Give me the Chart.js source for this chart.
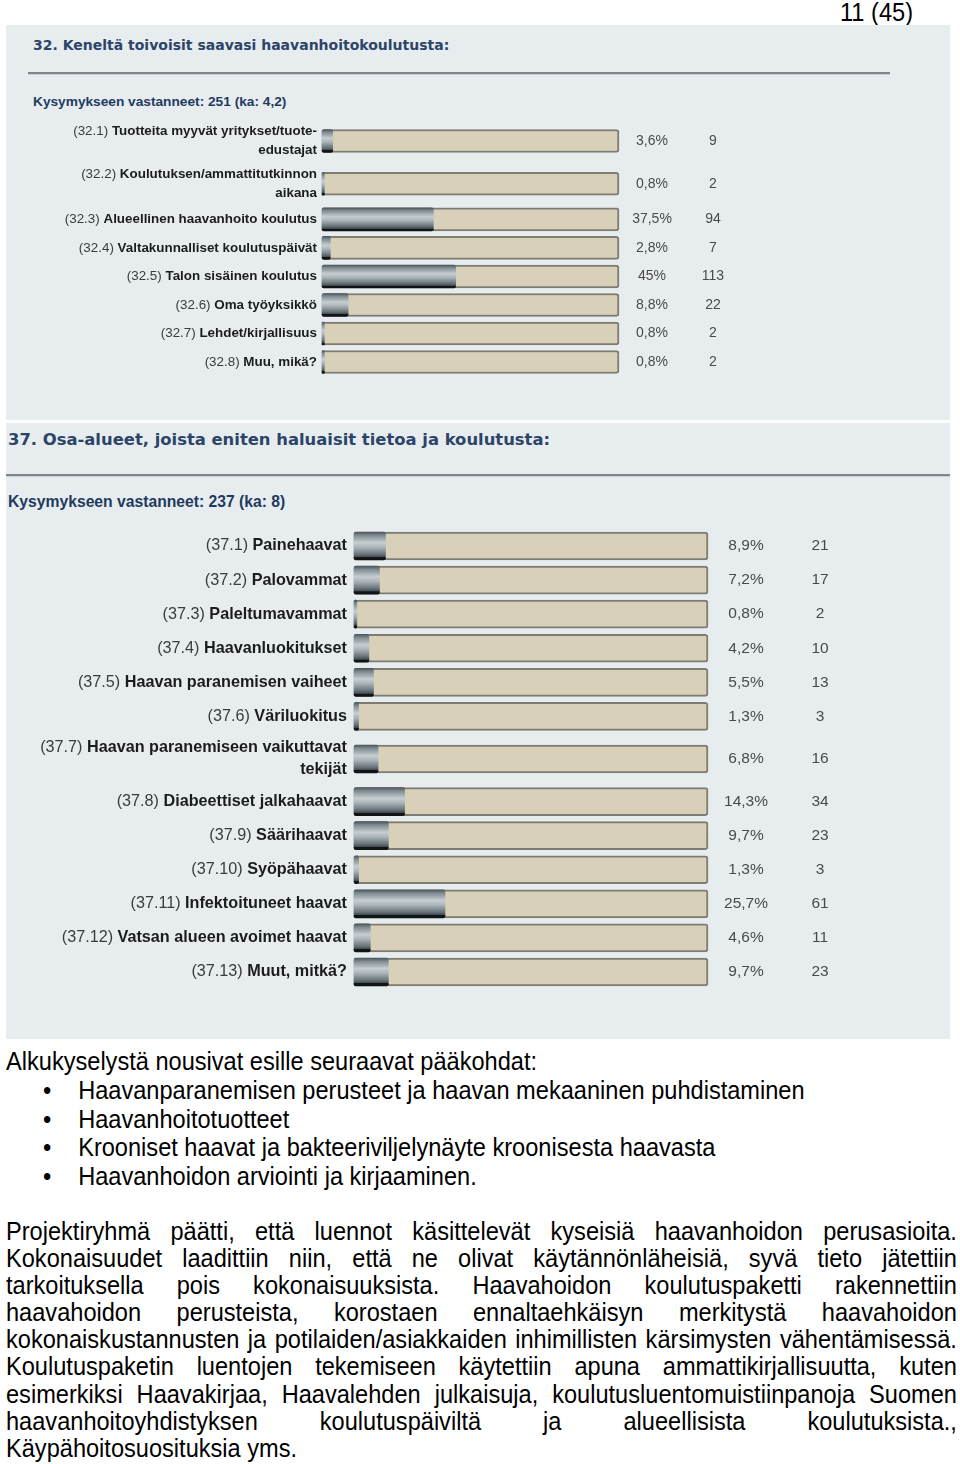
<!DOCTYPE html>
<html>
<head>
<meta charset="utf-8">
<script src="https://cdn.jsdelivr.net/npm/chart.js@4.4.1/dist/chart.umd.min.js"></script>
<style>
  body { margin: 0; background: #fff; width: 960px; height: 1464px; position: relative; overflow: hidden; font-family: "Liberation Sans", Arial, sans-serif; }
  .panel { position: absolute; left: 6px; width: 944px; background: #e7edef; }
  .title { position: absolute; font-family: "DejaVu Sans", Verdana, sans-serif; font-weight: bold; color: #2c4468; white-space: nowrap; }
  .sub { position: absolute; font-family: "Liberation Sans", Arial, sans-serif; font-weight: bold; color: #1f3a5e; white-space: nowrap; }
  .rule { position: absolute; height: 2px; background: #7f878b; border-bottom: 1px solid #c9d0d3; }
  canvas { position: absolute; }
  .txt { position: absolute; left: 6px; width: 1028px; transform: scaleX(0.925); transform-origin: 0 0; font-size: 25.5px; color: #000; }
  .txt div { white-space: nowrap; }
  .just div { text-align: justify; text-align-last: justify; white-space: normal; }
  .just div.last { text-align-last: left; }
  .li { position: relative; padding-left: 78px; }
  .li span { position: absolute; left: 40px; }
</style>
</head>
<body>
<div class="txt" style="top:-2px; left:840px; width:200px;">11 (45)</div>

<div class="panel" style="top:25px; height:395px;"></div>
<div class="title" style="left:33px; top:35px; font-size:14px; line-height:20px;">32. Keneltä toivoisit saavasi haavanhoitokoulutusta:</div>
<div class="rule" style="left:28px; top:72px; width:862px;"></div>
<div class="sub" style="left:33px; top:93px; font-size:13.7px; line-height:18px;">Kysymykseen vastanneet: 251 (ka: 4,2)</div>
<canvas id="chart32" width="944" height="276" style="left:6px; top:112px; width:944px; height:276px;"></canvas>

<div class="panel" style="top:423px; height:616px;"></div>
<div class="title" style="left:8px; top:429px; font-size:16.4px; line-height:22px;">37. Osa-alueet, joista eniten haluaisit tietoa ja koulutusta:</div>
<div class="rule" style="left:6px; top:474px; width:944px;"></div>
<div class="sub" style="left:8px; top:492px; font-size:15.7px; line-height:20px;">Kysymykseen vastanneet: 237 (ka: 8)</div>
<canvas id="chart37" width="944" height="490" style="left:6px; top:515px; width:944px; height:490px;"></canvas>

<div class="txt" style="top:1047px; line-height:28.75px;">
  <div>Alkukyselystä nousivat esille seuraavat pääkohdat:</div>
  <div class="li"><span>•</span>Haavanparanemisen perusteet ja haavan mekaaninen puhdistaminen</div>
  <div class="li"><span>•</span>Haavanhoitotuotteet</div>
  <div class="li"><span>•</span>Krooniset haavat ja bakteeriviljelynäyte kroonisesta haavasta</div>
  <div class="li"><span>•</span>Haavanhoidon arviointi ja kirjaaminen.</div>
</div>

<div class="txt just" style="top:1218px; line-height:27.1px;">
  <div>Projektiryhmä päätti, että luennot käsittelevät kyseisiä haavanhoidon perusasioita.</div>
  <div>Kokonaisuudet laadittiin niin, että ne olivat käytännönläheisiä, syvä tieto jätettiin</div>
  <div>tarkoituksella pois kokonaisuuksista. Haavahoidon koulutuspaketti rakennettiin</div>
  <div>haavahoidon perusteista, korostaen ennaltaehkäisyn merkitystä haavahoidon</div>
  <div>kokonaiskustannusten ja potilaiden/asiakkaiden inhimillisten kärsimysten vähentämisessä.</div>
  <div>Koulutuspaketin luentojen tekemiseen käytettiin apuna ammattikirjallisuutta, kuten</div>
  <div>esimerkiksi Haavakirjaa, Haavalehden julkaisuja, koulutusluentomuistiinpanoja Suomen</div>
  <div>haavanhoitoyhdistyksen koulutuspäiviltä ja alueellisista koulutuksista.,</div>
  <div class="last">Käypähoitosuosituksia yms.</div>
</div>

<script>
// kysymys 32
const labels32 = [
  ['(32.1) Tuotteita myyvät yritykset/tuote-', 'edustajat'],
  ['(32.2) Koulutuksen/ammattitutkinnon', 'aikana'],
  ['(32.3) Alueellinen haavanhoito koulutus'],
  ['(32.4) Valtakunnalliset koulutuspäivät'],
  ['(32.5) Talon sisäinen koulutus'],
  ['(32.6) Oma työyksikkö'],
  ['(32.7) Lehdet/kirjallisuus'],
  ['(32.8) Muu, mikä?']
];
const pct32 = [3.6, 0.8, 37.5, 2.8, 45, 8.8, 0.8, 0.8];
const count32 = [9, 2, 94, 7, 113, 22, 2, 2];

// kysymys 37
const labels37 = [
  ['(37.1) Painehaavat'],
  ['(37.2) Palovammat'],
  ['(37.3) Paleltumavammat'],
  ['(37.4) Haavanluokitukset'],
  ['(37.5) Haavan paranemisen vaiheet'],
  ['(37.6) Väriluokitus'],
  ['(37.7) Haavan paranemiseen vaikuttavat', 'tekijät'],
  ['(37.8) Diabeettiset jalkahaavat'],
  ['(37.9) Säärihaavat'],
  ['(37.10) Syöpähaavat'],
  ['(37.11) Infektoituneet haavat'],
  ['(37.12) Vatsan alueen avoimet haavat'],
  ['(37.13) Muut, mitkä?']
];
const pct37 = [8.9, 7.2, 0.8, 4.2, 5.5, 1.3, 6.8, 14.3, 9.7, 1.3, 25.7, 4.6, 9.7];
const count37 = [21, 17, 2, 10, 13, 3, 16, 34, 23, 3, 61, 11, 23];

function fmtPct(v) {
  return String(v).replace('.', ',') + '%';
}

// row text: labels on the left, % and count on the right
function rowText(labels, pct, counts, pos, st) {
  return {
    id: 'rowText',
    afterDatasetsDraw(chart) {
      const { ctx, chartArea, scales } = chart;
      ctx.save();
      ctx.textBaseline = 'middle';
      labels.forEach((lines, i) => {
        const yc = scales.y.getPixelForValue(pos[i]);
        const x = chartArea.left - st.labelGap;
        lines.forEach((line, j) => {
          const ly = yc + (j - (lines.length - 1) / 2) * st.lineGap;
          const m = line.match(/^(\(\d+\.\d+\))\s(.*)$/);
          const bold = m ? m[2] : line;
          ctx.textAlign = 'right';
          ctx.font = 'bold ' + st.labelSize + 'px "Liberation Sans", Arial, sans-serif';
          ctx.fillStyle = '#1c1c1c';
          ctx.fillText(bold, x, ly);
          if (m) {
            const w = ctx.measureText(bold).width;
            ctx.font = st.labelSize + 'px "Liberation Sans", Arial, sans-serif';
            ctx.fillStyle = '#3c3c3c';
            ctx.fillText(m[1] + ' ', x - w, ly);
          }
        });
        ctx.font = st.numSize + 'px "Liberation Sans", Arial, sans-serif';
        ctx.textAlign = 'center';
        ctx.fillStyle = '#4a4a4a';
        ctx.fillText(fmtPct(pct[i]), chartArea.right + st.pctX, yc);
        ctx.fillText(String(counts[i]), chartArea.right + st.cntX, yc);
      });
      ctx.restore();
    }
  };
}

function makeChart(id, labels, pct, counts, st) {
  // two-line labels take 1.5 rows
  const weights = labels.map(l => l.length > 1 ? 1.5 : 1);
  let acc = 0;
  const pos = weights.map(w => { const p = acc + w / 2; acc += w; return p; });

  const metal = c => {
    const ch = c.chart;
    const sy = ch.scales.y;
    if (!sy || !c.raw) return '#8d989d';
    const yc = sy.getPixelForValue(c.raw.y);
    if (!isFinite(yc)) return '#8d989d';
    const h = st.bar / 2;
    const g = ch.ctx.createLinearGradient(0, yc - h, 0, yc + h);
    g.addColorStop(0, '#4b565c');
    g.addColorStop(0.12, '#7f8b90');
    g.addColorStop(0.38, '#c6ced1');
    g.addColorStop(0.55, '#a9b3b7');
    g.addColorStop(0.8, '#667277');
    g.addColorStop(0.9, '#3e484d');
    g.addColorStop(0.91, '#111416');
    g.addColorStop(1, '#111416');
    return g;
  };

  new Chart(document.getElementById(id), {
    type: 'bar',
    data: {
      datasets: [
        {
          data: pct.map((v, i) => ({ x: v, y: pos[i] })),
          backgroundColor: metal,
          borderWidth: 0,
          borderRadius: 2,
          borderSkipped: false,
          grouped: false,
          barThickness: st.bar,
          clip: false
        },
        {
          data: pos.map(p => ({ x: 100, y: p })),
          backgroundColor: '#d8d0b9',
          borderColor: '#7e7c72',
          borderWidth: 2,
          borderRadius: 3,
          borderSkipped: false,
          grouped: false,
          barThickness: st.bar,
          clip: false
        }
      ]
    },
    options: {
      indexAxis: 'y',
      responsive: false,
      animation: false,
      layout: { padding: st.pad },
      scales: {
        x: { type: 'linear', min: 0, max: 100, offset: false, display: false },
        y: { type: 'linear', min: 0, max: acc, reverse: true, offset: false, display: false }
      },
      plugins: { legend: { display: false }, tooltip: { enabled: false } }
    },
    plugins: [rowText(labels, pct, counts, pos, st)]
  });
}

makeChart('chart32', labels32, pct32, count32, {
  bar: 23, labelSize: 13.4, numSize: 14, lineGap: 19, labelGap: 5, pctX: 33, cntX: 94,
  pad: { left: 316, right: 331, top: 7.6, bottom: 11.7 }
});
makeChart('chart37', labels37, pct37, count37, {
  bar: 28, labelSize: 16.2, numSize: 15.5, lineGap: 22, labelGap: 7, pctX: 38, cntX: 112,
  pad: { left: 348, right: 242, top: 14, bottom: 16 }
});
</script>
</body>
</html>
